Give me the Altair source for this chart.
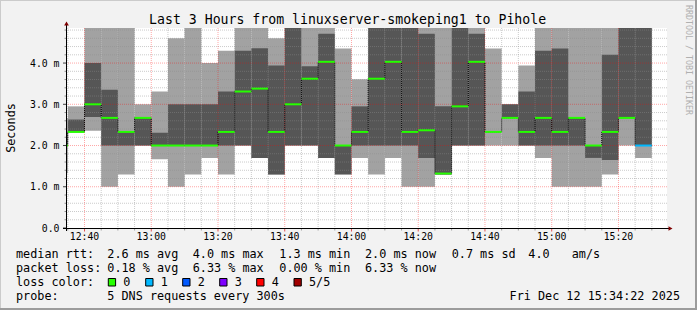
import altair as alt
import pandas as pd

MONO = "DejaVu Sans Mono"

# ---------------- data (time = minutes after 12:00, values in ms) ----------------
bar_start = [30, 35, 40, 45, 50, 55, 60, 65, 70, 75, 80, 85, 90, 95, 100, 105, 110, 115,
             120, 125, 130, 135, 140, 145, 150, 155, 160, 165, 170, 175, 180, 185, 190, 195, 200, 205]
ping_min = [1.33, 2.33, 2.36, 1.0, 1.3, 2.0, 1.67, 1.0, 1.3, 1.7, 1.3, 2.0, 1.7, 1.3, 2.0, 2.0, 1.7, 1.3,
            1.7, 1.3, 1.7, 1.0, 1.0, 1.3, 2.0, 2.0, 2.0, 2.0, 2.0, 1.7, 1.0, 1.0, 1.0, 1.3, 2.0, 1.7]
ping_p2 = [2.0, 2.33, 2.69, 2.0, 2.0, 2.0, 2.0, 2.0, 2.0, 2.0, 2.0, 2.0, 1.7, 1.3, 2.0, 2.0, 1.7, 1.3,
           2.0, 2.0, 2.0, 2.0, 1.7, 1.3, 2.0, 2.0, 2.33, 2.67, 2.0, 2.0, 2.0, 2.0, 1.7, 1.65, 2.67, 2.0]
ping_med = [2.0, 2.33, 3.0, 2.67, 2.33, 2.67, 2.0, 2.0, 2.0, 2.0, 2.33, 3.31, 3.38, 2.33, 3.0, 3.62, 4.03, 2.0,
            2.33, 3.62, 4.03, 2.33, 2.37, 1.32, 2.95, 4.03, 2.33, 2.67, 2.33, 2.67, 2.33, 2.67, 2.0, 2.33, 2.67, 2.0]
ping_p4 = [2.33, 2.63, 4.0, 3.35, 2.33, 2.67, 2.31, 3.0, 3.0, 3.0, 3.31, 4.3, 4.36, 3.94, 5.0, 3.92, 4.71, 2.0,
           2.95, 5.0, 5.0, 5.0, 4.71, 2.95, 5.0, 4.71, 2.33, 3.0, 3.31, 4.3, 4.35, 2.67, 2.0, 4.2, 5.0, 5.0]
ping_max = [2.67, 2.95, 5.0, 5.0, 5.0, 3.0, 3.31, 4.6, 5.0, 4.0, 4.3, 5.0, 5.0, 4.6, 5.0, 5.0, 5.0, 4.35,
            3.61, 5.0, 5.0, 5.0, 5.0, 5.0, 5.0, 5.0, 4.35, 3.0, 3.94, 5.0, 5.0, 5.0, 5.0, 5.0, 5.0, 5.0]
ping_loss = [0] * 35 + [1]

x_tick_minutes = [40, 60, 80, 100, 120, 140, 160, 180, 200]
x_tick_labels = ["12:40", "13:00", "13:20", "13:40", "14:00", "14:20", "14:40", "15:00", "15:20"]
x_minor_minutes = [35, 45, 50, 55, 65, 70, 75, 85, 90, 95, 105, 110, 115, 125, 130, 135, 145, 150, 155,
                   165, 170, 175, 185, 190, 195, 205, 210]
y_tick_values = [0, 1, 2, 3, 4]
y_tick_labels = ["0.0", "1.0 m", "2.0 m", "3.0 m", "4.0 m"]
y_minor_values = [0.2, 0.4, 0.6, 0.8, 1.2, 1.4, 1.6, 1.8, 2.2, 2.4, 2.6, 2.8, 3.2, 3.4, 3.6, 3.8,
                  4.2, 4.4, 4.6, 4.8]

loss_levels = [0, 1, 2, 3, 4, 5]
loss_names = ["0", "1", "2", "3", "4", "5/5"]
loss_colors = ["#26ff00", "#00b8ff", "#0059ff", "#7e00ff", "#ff0000", "#a10000"]

title_text = "Last 3 Hours from linuxserver-smokeping1 to Pihole"
row1 = ["median rtt:", "2.6 ms avg", "4.0 ms max", "1.3 ms min", "2.0 ms now", "0.7 ms sd", "4.0", "am/s"]
row2 = ["packet loss:", "0.18 % avg", "6.33 % max", "0.00 % min", "6.33 % now"]
row3_label = "loss color:"
row4 = ["probe:", "5 DNS requests every 300s"]
date_text = "Fri Dec 12 15:34:22 2025"
ylabel_text = "Seconds"
watermark = "RRDTOOL / TOBI OETIKER"

# ---------------- tables ----------------
df = pd.DataFrame({
    "start": bar_start,
    "end": [s + 5 for s in bar_start],
    "mn": ping_min, "p2": ping_p2, "med": ping_med, "p4": ping_p4, "mx": ping_max,
    "loss": ping_loss,
})
step_df = pd.DataFrame({"t": bar_start + [bar_start[-1] + 5], "v": ping_med + [ping_med[-1]]})
xt_df = pd.DataFrame({"m": x_tick_minutes, "lab": x_tick_labels})
yt_df = pd.DataFrame({"v": y_tick_values, "lab": y_tick_labels})
xminor_df = pd.DataFrame({"m": x_minor_minutes})
yminor_df = pd.DataFrame({"v": y_minor_values})

xs = alt.Scale(domain=[34.75, 214.55], nice=False, zero=False)
ys = alt.Scale(domain=[0, 4.85], nice=False, zero=False)


def X(f):
    return alt.X(f, scale=xs, axis=None)


def Y(f):
    return alt.Y(f, scale=ys, axis=None)


LIGHT = "#a2a2a2"
DARK = "#565656"

light = alt.Chart(df).mark_rect(color=LIGHT, clip=True).encode(
    x=X("start:Q"), x2="end", y=Y("mn:Q"), y2="mx")
dark = alt.Chart(df).mark_rect(color=DARK, clip=True).encode(
    x=X("start:Q"), x2="end", y=Y("p2:Q"), y2="p4")

grid_minor = dict(color="#8c8c8c", opacity=0.45, strokeDash=[1, 1], strokeWidth=1, clip=True)
grid_major = dict(color="#ff0000", opacity=0.35, strokeDash=[1, 1], strokeWidth=1, clip=True)
gx_minor = alt.Chart(xminor_df).mark_rule(**grid_minor).encode(x=X("m:Q"))
gy_minor = alt.Chart(yminor_df).mark_rule(**grid_minor).encode(y=Y("v:Q"))
gx_major = alt.Chart(xt_df).mark_rule(**grid_major).encode(x=X("m:Q"))
gy_major = alt.Chart(yt_df[yt_df.v > 0]).mark_rule(**grid_major).encode(y=Y("v:Q"))

step = alt.Chart(step_df).mark_line(
    interpolate="step-after", color="black", strokeDash=[1, 1], strokeWidth=1, clip=True
).encode(x=X("t:Q"), y=Y("v:Q"))

median = alt.Chart(df).mark_rule(strokeWidth=2, clip=True).encode(
    x=X("start:Q"), x2="end", y=Y("med:Q"),
    color=alt.Color("loss:O", scale=alt.Scale(domain=loss_levels, range=loss_colors), legend=None),
)

# axis ticks and labels through the scales
ytick_major = alt.Chart(yt_df).mark_rule(color="#404040", strokeWidth=1).encode(
    y=Y("v:Q"), x=alt.value(-4), x2=alt.value(-0.5))
ytick_minor = alt.Chart(yminor_df).mark_rule(color="#909090", strokeWidth=1).encode(
    y=Y("v:Q"), x=alt.value(-2.5), x2=alt.value(-0.5))
xtick_major = alt.Chart(xt_df).mark_rule(color="#e05050", strokeWidth=1).encode(
    x=X("m:Q"), y=alt.value(200.5), y2=alt.value(203.5))
xtick_minor = alt.Chart(xminor_df).mark_rule(color="#a0a0a0", strokeWidth=1).encode(
    x=X("m:Q"), y=alt.value(200.5), y2=alt.value(202.5))
ylabels = alt.Chart(yt_df).mark_text(
    align="right", baseline="middle", font=MONO, fontSize=9.8, color="black", dx=-7.5, dy=0.5
).encode(y=Y("v:Q"), x=alt.value(0), text="lab:N")
xlabels = alt.Chart(xt_df).mark_text(
    align="center", baseline="alphabetic", font=MONO, fontSize=9.8, color="black"
).encode(x=X("m:Q"), y=alt.value(212), text="lab:N")

ONE = alt.Data(values=[{"k": 0}])


def text(t, x, y, size=11.8, align="left", color="black", angle=0, baseline="alphabetic"):
    return alt.Chart(ONE).mark_text(
        text=t, align=align, baseline=baseline, font=MONO, fontSize=size, color=color, angle=angle
    ).encode(x=alt.value(x), y=alt.value(y))


def box(x0, x1, y0, y1, fill, stroke=None):
    kw = {"color": fill}
    if stroke:
        kw.update(stroke=stroke, strokeWidth=1)
    return alt.Chart(ONE).mark_rect(**kw).encode(
        x=alt.value(x0), x2=alt.value(x1), y=alt.value(y0), y2=alt.value(y1))


OX, OY = 67, 28  # plot origin in page pixels
deco = []
# axis lines and arrows
deco.append(alt.Chart(ONE).mark_rule(color="black", strokeWidth=1).encode(
    x=alt.value(-0.5), y=alt.value(203), y2=alt.value(-3)))
deco.append(alt.Chart(ONE).mark_rule(color="black", strokeWidth=1).encode(
    x=alt.value(-4), x2=alt.value(603), y=alt.value(200.5)))
deco.append(alt.Chart(ONE).mark_point(shape="triangle-up", filled=True, color="#7f0000", size=22, opacity=1).encode(
    x=alt.value(-0.5), y=alt.value(-4.5)))
deco.append(alt.Chart(ONE).mark_point(shape="triangle-right", filled=True, color="#7f0000", size=22, opacity=1).encode(
    x=alt.value(603.5), y=alt.value(200.5)))

# frame
deco.append(box(-OX, 630, -OY, -OY + 1, "#cbcbcb"))
deco.append(box(-OX, -OX + 1, -OY, 282, "#cbcbcb"))
deco.append(box(-OX, 630, 280, 282, "#9c9c9c"))
deco.append(box(628, 630, -OY, 282, "#9c9c9c"))

# title, axis label, watermark
deco.append(text(title_text, 347.6 - OX, 24 - OY, size=13.2, align="center"))
deco.append(text(ylabel_text, 10.5 - OX, 128 - OY, size=11.8, align="center", angle=270, baseline="middle"))
deco.append(text(watermark, 688 - OX, 60 - OY, size=8.3, align="center", angle=90, baseline="middle", color="#b0b0b0"))

# legend rows
cols = [16, 107.3, 192.7, 279.3, 365, 451.7, 528.3, 571.7]
for t, cx in zip(row1, cols):
    deco.append(text(t, cx - OX, 258.3 - OY))
for t, cx in zip(row2, cols):
    deco.append(text(t, cx - OX, 272.3 - OY))
deco.append(text(row3_label, 16 - OX, 286.3 - OY))
box_x = [108.3, 145.7, 182.7, 219.7, 256.7, 294.0]
for name, col, bx in zip(loss_names, loss_colors, box_x):
    deco.append(box(bx - OX, bx + 7.3 - OX, 278.5 - OY, 286 - OY, col, stroke="black"))
    deco.append(text(name, bx + 15 - OX, 286.3 - OY))
deco.append(text(row4[0], 16 - OX, 300.3 - OY))
deco.append(text(row4[1], 107.3 - OX, 300.3 - OY))
deco.append(text(date_text, 680 - OX, 300.3 - OY, align="right"))

chart = alt.layer(
    light, dark, gx_minor, gy_minor, gx_major, gy_major, step, median,
    ytick_minor, ytick_major, xtick_minor, xtick_major, ylabels, xlabels, *deco
).properties(
    width=600, height=200,
    autosize=alt.AutoSizeParams(type="none"),
    padding={"left": OX, "top": OY, "right": 30, "bottom": 82},
    background="#f2f2f2",
).configure_view(fill="white", stroke=None)

chart.save("out.html", embed_options={"renderer": "svg", "actions": False})
